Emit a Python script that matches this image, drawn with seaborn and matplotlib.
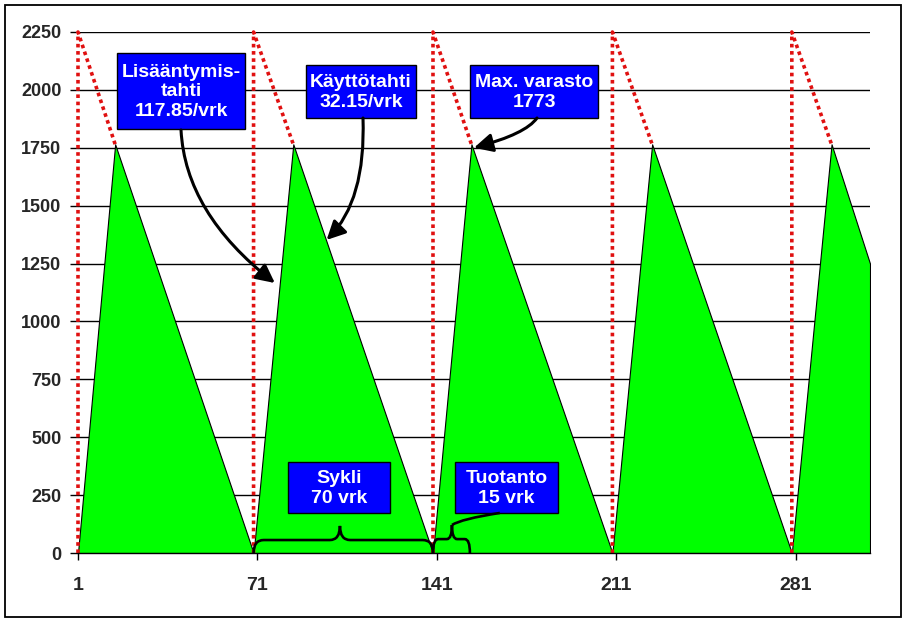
import matplotlib
matplotlib.use("Agg")
import numpy as np
import pandas as pd
import seaborn as sns
import matplotlib.pyplot as plt
import matplotlib.transforms as mtransforms
from matplotlib.patches import Rectangle, PathPatch
from matplotlib.path import Path

# ---------------------------------------------------------------
# DATA
# ---------------------------------------------------------------
cycle_start = [1, 69.5, 139.5, 209.5, 279.5]   # production starts (vrk)
peak_day = [15.5, 85, 154.5, 225, 295]         # production ends = max stock
peak_level = 1765                              # Max. varasto (~1773)
top_level = 2250                               # total production line top
end_day = 310
end_level = 1250

x_ticks = [1, 71, 141, 211, 281]
y_ticks = [0, 250, 500, 750, 1000, 1250, 1500, 1750, 2000, 2250]

box_texts = ["Lisääntymis-\ntahti\n117.85/vrk", "Käyttötahti\n32.15/vrk",
             "Max. varasto\n1773", "Sykli\n70 vrk", "Tuotanto\n15 vrk"]

# stock level series
days, stock = [], []
for s, p in zip(cycle_start, peak_day):
    days += [s, p]
    stock += [0, peak_level]
days.append(end_day)
stock.append(end_level)
stock_df = pd.DataFrame({"day": days, "stock": stock})

# red production line (per cycle)
rows = []
for i, (s, p) in enumerate(zip(cycle_start, peak_day)):
    rows += [(i, s, 0), (i, s, top_level), (i, p, peak_level)]
prod_df = pd.DataFrame(rows, columns=["cycle", "day", "level"])

# ---------------------------------------------------------------
# FIGURE
# ---------------------------------------------------------------
sns.set_style("white")
plt.rcParams["font.family"] = ["Liberation Sans", "DejaVu Sans"]
plt.rcParams["font.weight"] = "bold"

W, H = 907, 621
fig = plt.figure(figsize=(W / 100, H / 100), dpi=100)
ax = fig.add_axes([78 / W, 68 / H, 792 / W, 521 / H])
pix = mtransforms.Affine2D().scale(1, -1).translate(0, H)  # image pixels, y down

ax.fill_between(stock_df["day"], stock_df["stock"], 0, color="#00FF00",
                edgecolor="black", linewidth=0.8, zorder=2)
sns.lineplot(data=prod_df, x="day", y="level", units="cycle", estimator=None,
             sort=False, color="#E01010", linewidth=2.6, linestyle=(0, (1, 1)),
             ax=ax, zorder=3, clip_on=False)

ax.set_xlim(1, end_day)
ax.set_ylim(0, top_level)
ax.set_xticks(x_ticks)
ax.set_yticks(y_ticks)
ax.set_xticklabels([str(v) for v in x_ticks], fontsize=14, fontweight="bold")
ax.set_yticklabels([str(v) for v in y_ticks], fontsize=13, fontweight="bold")
ax.set_xlabel("")
ax.set_ylabel("")
ax.yaxis.grid(True, color="black", linewidth=1)
ax.set_axisbelow(True)
for side in ["left", "right", "top"]:
    ax.spines[side].set_visible(False)
ax.spines["bottom"].set_color("black")
ax.spines["bottom"].set_linewidth(1)
ax.spines["bottom"].set_zorder(4)
ax.tick_params(axis="x", direction="out", length=5, width=1, color="black", pad=12, bottom=True)
ax.tick_params(axis="y", direction="out", length=6, width=1, color="black", pad=6, left=True)

# text boxes (pixel layout)
boxes = [(117, 53, 245, 129), (306, 65, 416, 118), (470, 65, 598, 118),
         (288, 462, 390, 513), (455, 462, 558, 513)]
for (x0, y0, x1, y1), txt in zip(boxes, box_texts):
    ax.add_patch(Rectangle((x0, y0), x1 - x0, y1 - y0, transform=pix,
                           facecolor="#0000FF", edgecolor="black", linewidth=1,
                           zorder=6, clip_on=False))
    ax.text((x0 + x1) / 2, (y0 + y1) / 2 + 1, txt, transform=pix, color="white",
            fontsize=14, fontweight="bold", ha="center", va="center",
            linespacing=1.2, zorder=7)

# curved arrows
arrow_kw = dict(arrowstyle="-|>,head_length=0.8,head_width=0.4", color="black",
                lw=2.2, mutation_scale=14, shrinkA=0, shrinkB=0)
ax.annotate("", xy=(77.8, 1166), xycoords="data", xytext=(181, 130), textcoords=pix,
            arrowprops=dict(connectionstyle="angle3,angleA=-87,angleB=-38", **arrow_kw),
            zorder=8)
ax.annotate("", xy=(98.0, 1352), xycoords="data", xytext=(363, 118), textcoords=pix,
            arrowprops=dict(connectionstyle="angle3,angleA=-88,angleB=45", **arrow_kw),
            zorder=8)
ax.annotate("", xy=(155.5, 1750), xycoords="data", xytext=(537, 118), textcoords=pix,
            arrowprops=dict(connectionstyle="angle3,angleA=-125,angleB=15", **arrow_kw),
            zorder=8)


def brace(x0, x1, xm, yh, ytip, r):
    verts = [(x0, 0), (x0, yh), (x0 + r, yh), (xm - r, yh), (xm, yh), (xm, ytip),
             (xm, yh), (xm + r, yh), (x1 - r, yh), (x1, yh), (x1, 0)]
    codes = [Path.MOVETO, Path.CURVE3, Path.CURVE3, Path.LINETO, Path.CURVE3, Path.CURVE3,
             Path.CURVE3, Path.CURVE3, Path.LINETO, Path.CURVE3, Path.CURVE3]
    return Path(verts, codes)


# Sykli brace (one full cycle)
ax.add_patch(PathPatch(brace(cycle_start[1], cycle_start[2], 103.2, 56, 117, 4),
                       facecolor="none", edgecolor="black", linewidth=1.9, zorder=8))
# Tuotanto brace (production period) + leader to its box
ax.add_patch(PathPatch(brace(cycle_start[2], 153.9, 146.9, 60, 121, 2),
                       facecolor="none", edgecolor="black", linewidth=1.9, zorder=8))
leader = Path([(146.9, 121), (150.5, 147), (165.6, 173)],
              [Path.MOVETO, Path.CURVE3, Path.CURVE3])
ax.add_patch(PathPatch(leader, facecolor="none", edgecolor="black", linewidth=1.9, zorder=8))

# outer frame
fig.patches.append(Rectangle((5 / W, 4 / H), 896 / W, 612 / H, transform=fig.transFigure,
                             facecolor="none", edgecolor="black", linewidth=1.3))

fig.savefig("out.png", dpi=100)
